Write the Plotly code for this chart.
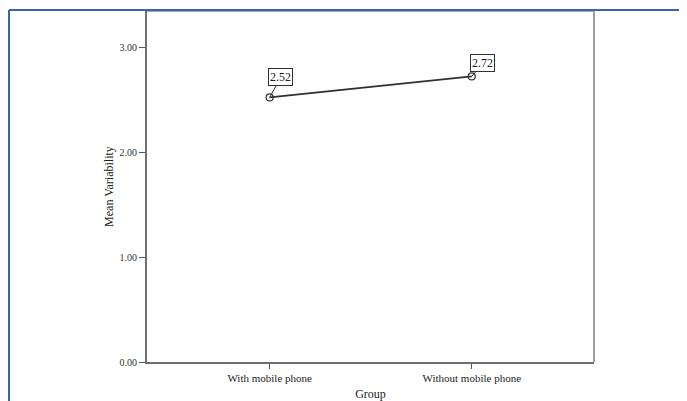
import plotly.graph_objects as go

groups = ["With mobile phone", "Without mobile phone"]
means = [2.52, 2.72]
y_ticks = [0, 1, 2, 3]
y_tick_labels = ["0.00", "1.00", "2.00", "3.00"]

# page body has an 8px margin, so the figure is offset by 8px
OFF = 8
W, H = 687 - OFF, 401 - OFF
L, R, T, B = 147 - OFF, 594 - OFF, 11 - OFF, 362 - OFF

fig = go.Figure()
fig.add_trace(go.Scatter(
    x=[0, 1], y=means, mode="lines+markers",
    line=dict(color="#303030", width=1.6),
    marker=dict(symbol="circle-open", size=7, color="#303030", line=dict(width=1.2)),
    hoverinfo="skip", showlegend=False,
))

label_offsets = [(11, -20), (11, -13)]
for i, (v, (ax, ay)) in enumerate(zip(means, label_offsets)):
    fig.add_annotation(
        x=i, y=v, text=f"{v:.2f}", showarrow=True, arrowhead=0, arrowwidth=1,
        arrowcolor="#303030", ax=ax, ay=ay, xanchor="center", yanchor="middle",
        bordercolor="#303030", borderwidth=1, borderpad=1, bgcolor="white",
        font=dict(family="Liberation Serif", size=12, color="#222"),
    )

font = dict(family="Liberation Serif", size=11, color="#222")

fig.update_layout(
    width=W, height=H,
    margin=dict(l=L, r=W - R, t=T, b=H - B, autoexpand=False),
    paper_bgcolor="white", plot_bgcolor="white",
    font=font,
    xaxis=dict(
        range=[-0.607, 1.605], tickvals=[0, 1], ticktext=groups,
        showgrid=False, zeroline=False, showline=True, linecolor="#6e6e6e", linewidth=2,
        ticks="outside", ticklen=5, tickcolor="#555", tickfont=font,
        title=dict(text="Group", font=dict(family="Liberation Serif", size=12, color="#222"), standoff=6),
    ),
    yaxis=dict(
        range=[0, 3.343], tickvals=y_ticks, ticktext=y_tick_labels,
        showgrid=False, zeroline=False, showline=True, linecolor="#6e6e6e", linewidth=2,
        ticks="outside", ticklen=6, tickcolor="#555", tickfont=dict(family="Liberation Serif", size=10, color="#333"),
        title=dict(text="Mean Variability", font=dict(family="Liberation Serif", size=12, color="#222"), standoff=3),
    ),
)

# light grey frame around plot area (top and right)
fig.add_shape(type="line", xref="paper", yref="paper", x0=0, x1=1, y0=1, y1=1,
              line=dict(color="#a8a8a8", width=2))
fig.add_shape(type="line", xref="paper", yref="paper", x0=1, x1=1, y0=0, y1=1,
              line=dict(color="#a0a0a0", width=2))

# blue outer border (top and left), positions in page pixels
def px_x(p):
    return (p - OFF - L) / (R - L)

def px_y(p):
    return (B - (p - OFF)) / (B - T)

fig.add_shape(type="line", xref="paper", yref="paper", x0=px_x(9), x1=px_x(700), y0=px_y(10), y1=px_y(10),
              line=dict(color="#3b62b5", width=2))
fig.add_shape(type="line", xref="paper", yref="paper", x0=px_x(9), x1=px_x(9), y0=px_y(10), y1=px_y(410),
              line=dict(color="#3b62b5", width=2))

fig.write_html("out.html")
